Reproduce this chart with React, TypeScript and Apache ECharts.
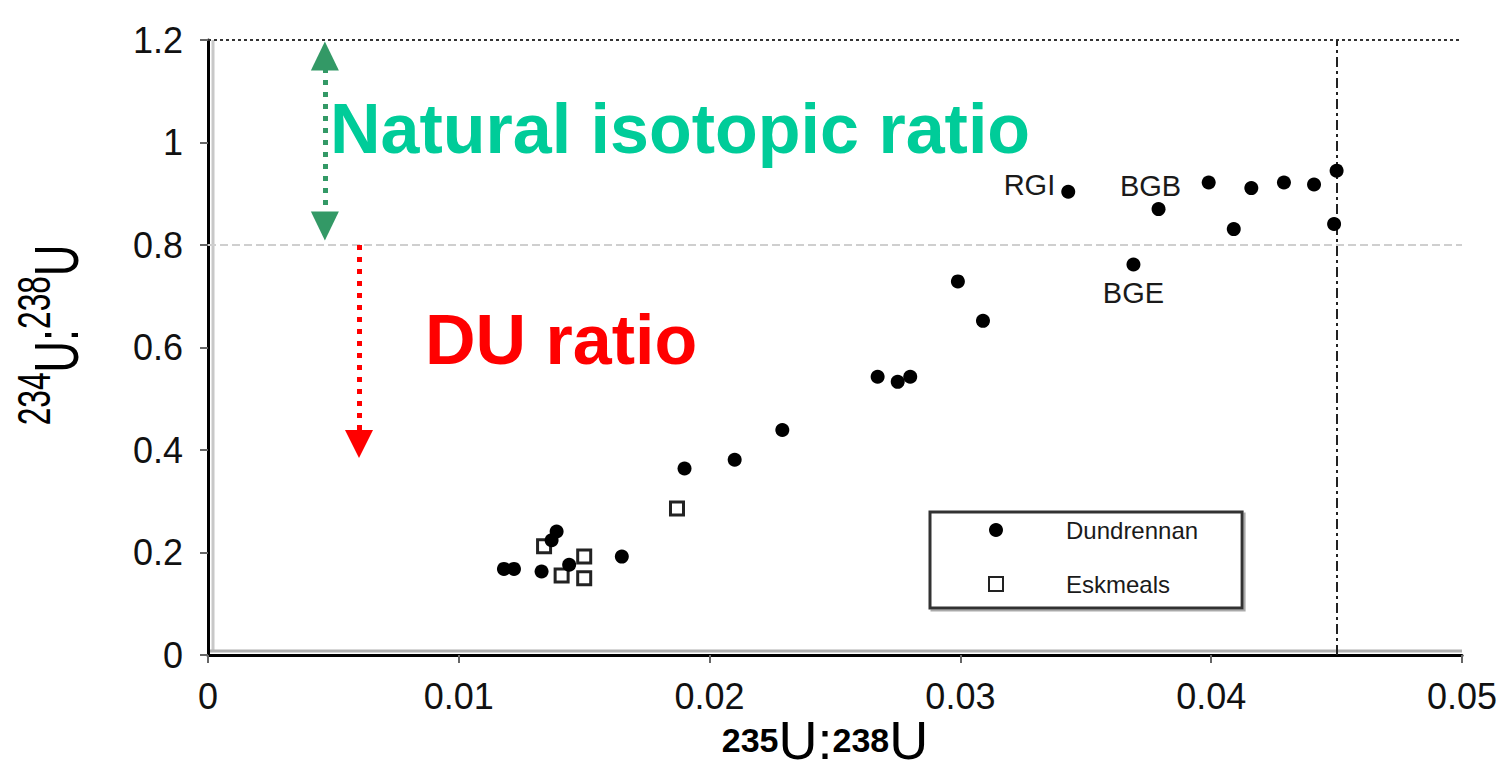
import React, { useEffect, useRef } from "react";
import * as echarts from "echarts";

const xTickValues = [0, 0.01, 0.02, 0.03, 0.04, 0.05];
const yTickValues = [0, 0.2, 0.4, 0.6, 0.8, 1, 1.2];

const dundrennan: [number, number][] = [
  [0.0118, 0.168],
  [0.0122, 0.168],
  [0.0133, 0.163],
  [0.0137, 0.224],
  [0.0139, 0.241],
  [0.0144, 0.176],
  [0.0165, 0.192],
  [0.019, 0.364],
  [0.021, 0.381],
  [0.0229, 0.439],
  [0.0267, 0.543],
  [0.0275, 0.533],
  [0.028, 0.543],
  [0.0299, 0.729],
  [0.0309, 0.652],
  [0.0343, 0.904],
  [0.0369, 0.762],
  [0.0379, 0.87],
  [0.0399, 0.922],
  [0.0409, 0.831],
  [0.0416, 0.911],
  [0.0429, 0.922],
  [0.0441, 0.918],
  [0.045, 0.945],
  [0.0449, 0.841],
];

const eskmeals: [number, number][] = [
  [0.0134, 0.212],
  [0.0141, 0.155],
  [0.015, 0.192],
  [0.015, 0.15],
  [0.0187, 0.286],
];

const siteNames = ["RGI", "BGB", "BGE"];
const sitePoints: [number, number][] = [
  [0.0343, 0.904],
  [0.0379, 0.87],
  [0.0369, 0.762],
];

const naturalRange = [0.8, 1.2];
const duLimit = 0.045;
const naturalArrowX = 0.00466;
const duArrowX = 0.00602;

const SANS = "'Liberation Sans', Arial, sans-serif";

const labelStyles: Record<string, any> = {
  RGI: { position: "left", distance: 6, offset: [0, -7] },
  BGB: { position: "top", distance: 2, offset: [-8, 0] },
  BGE: { position: "bottom", distance: 7, offset: [0, 0] },
};

export default function App() {
  const ref = useRef<HTMLDivElement>(null);
  useEffect(() => {
    if (!ref.current) return;
    const chart = echarts.init(ref.current, undefined, { renderer: "svg" });

    const dData = dundrennan.map((p) => {
      const idx = sitePoints.findIndex((s) => s[0] === p[0] && s[1] === p[1]);
      if (idx < 0) return { value: p };
      const nm = siteNames[idx];
      return {
        value: p,
        label: {
          show: true,
          formatter: nm,
          color: "#1a1a1a",
          fontSize: 29,
          fontFamily: SANS,
          ...labelStyles[nm],
        },
      };
    });

    chart.setOption({
      animation: false,
      backgroundColor: "#fff",
      grid: { left: 208, top: 40, right: 40, bottom: 119 },
      xAxis: {
        type: "value",
        min: xTickValues[0],
        max: xTickValues[xTickValues.length - 1],
        interval: 0.01,
        axisLine: { show: true, onZero: false, lineStyle: { color: "#000", width: 3 } },
        axisTick: { show: true, length: 8, lineStyle: { color: "#666", width: 2 } },
        axisLabel: { margin: 23, fontSize: 36, color: "#111", fontFamily: SANS },
        splitLine: { show: false },
      },
      yAxis: {
        type: "value",
        min: yTickValues[0],
        max: yTickValues[yTickValues.length - 1],
        interval: 0.2,
        axisLine: { show: true, onZero: false, lineStyle: { color: "#000", width: 3 } },
        axisTick: { show: true, length: 8, lineStyle: { color: "#666", width: 2 } },
        axisLabel: { margin: 25, fontSize: 36, color: "#111", fontFamily: SANS },
        splitLine: { show: false },
      },
      legend: {
        left: 930,
        top: 512,
        orient: "vertical",
        data: ["Dundrennan", "Eskmeals"],
        itemWidth: 14,
        itemHeight: 14,
        itemGap: 30,
        padding: [6, 44, 12, 58],
        borderColor: "#333",
        borderWidth: 3,
        backgroundColor: "#fff",
        shadowColor: "#aaa",
        shadowOffsetX: 2,
        shadowOffsetY: 2,
        textStyle: { fontSize: 24, lineHeight: 24, color: "#1a1a1a", fontFamily: SANS, padding: [0, 0, 0, 58] },
      },
      graphic: [
        { type: "line", shape: { x1: 213, y1: 40, x2: 213, y2: 652 }, style: { stroke: "#c8c8c8", lineWidth: 3 }, silent: true, z: 0 },
        { type: "line", shape: { x1: 210, y1: 651, x2: 1462, y2: 651 }, style: { stroke: "#b0b0b0", lineWidth: 3 }, silent: true, z: 0 },
        {
          type: "text",
          left: 330,
          top: 94,
          style: { text: "Natural isotopic ratio", fill: "#00cc99", fontSize: 70, fontWeight: "bold", fontFamily: SANS },
          z: 10,
        },
        {
          type: "text",
          left: 425,
          top: 305,
          style: { text: "DU ratio", fill: "#ff0000", fontSize: 70, fontWeight: "bold", fontFamily: SANS },
          z: 10,
        },
        {
          type: "text",
          x: 49,
          y: 335,
          rotation: Math.PI / 2,
          scaleX: 0.69,
          style: {
            text: "{s|234}{b|U:}{s|238}{b|U}",
            align: "center",
            verticalAlign: "middle",
            fill: "#000",
            rich: {
              s: { fontSize: 46, lineHeight: 44, verticalAlign: "top", fontFamily: SANS, fill: "#000" },
              b: { fontSize: 63, lineHeight: 76, verticalAlign: "bottom", fontFamily: SANS, fill: "#000" },
            },
          },
        },
        {
          type: "text",
          x: 825,
          y: 745,
          style: {
            text: "{s|235}{b|U:}{s|238}{b|U}",
            align: "center",
            verticalAlign: "middle",
            fill: "#000",
            rich: {
              s: { fontSize: 34, fontWeight: "bold", lineHeight: 20, verticalAlign: "top", fontFamily: SANS, fill: "#000" },
              b: { fontSize: 54, lineHeight: 44, verticalAlign: "bottom", fontFamily: SANS, fill: "#000" },
            },
          },
        },
      ],
      series: [
        {
          name: "Dundrennan",
          type: "scatter",
          symbol: "circle",
          symbolSize: 14,
          itemStyle: { color: "#000", opacity: 1 },
          data: dData,
          z: 5,
        },
        {
          name: "Eskmeals",
          type: "scatter",
          symbol: "rect",
          symbolSize: 13,
          itemStyle: { color: "#fff", borderColor: "#222", borderWidth: 3, opacity: 1 },
          data: eskmeals,
          z: 4,
        },
        {
          name: "refs",
          type: "scatter",
          data: [],
          markLine: {
            silent: true,
            symbol: ["none", "none"],
            label: { show: false },
            data: [
              [
                { coord: [xTickValues[0], naturalRange[1]] },
                { coord: [xTickValues[xTickValues.length - 1], naturalRange[1]], lineStyle: { color: "#333", type: [3, 3], width: 2 } },
              ],
              [
                { coord: [xTickValues[0], naturalRange[0]] },
                { coord: [xTickValues[xTickValues.length - 1], naturalRange[0]], lineStyle: { color: "#cfcfcf", type: [8, 4], width: 2 } },
              ],
              [
                { coord: [duLimit, yTickValues[0]] },
                { coord: [duLimit, yTickValues[yTickValues.length - 1]], lineStyle: { color: "#222", type: [10, 4, 3, 4], width: 2 } },
              ],
              [
                { coord: [naturalArrowX, 1.169], symbol: "triangle", symbolSize: [28, 29] },
                {
                  coord: [naturalArrowX, 0.837],
                  symbol: "triangle",
                  symbolSize: [28, 29],
                  lineStyle: { color: "#339966", type: [5, 7], width: 5 },
                },
              ],
              [
                { coord: [duArrowX, 0.8], symbol: "none" },
                {
                  coord: [duArrowX, 0.4117],
                  symbol: "triangle",
                  symbolSize: [28, 28],
                  lineStyle: { color: "#ff0000", type: [5, 7], width: 5 },
                },
              ],
            ],
          },
        },
      ],
    });
    return () => chart.dispose();
  }, []);
  return <div ref={ref} style={{ position: "fixed", left: 0, top: 0, width: 1502, height: 774, background: "#fff" }} />;
}
